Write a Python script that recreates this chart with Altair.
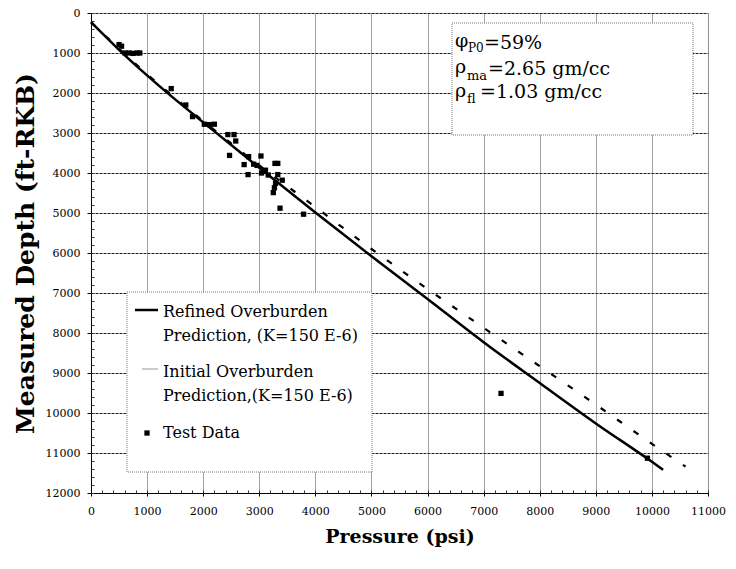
import altair as alt
import pandas as pd

# ---- data ----
refined_p = [0, 500, 1000, 1500, 2000, 2500, 3000, 4000, 5000, 6000, 7000, 8000, 9000, 10000, 10200]
refined_d = [230, 920, 1560, 2160, 2730, 3300, 3870, 4990, 6080, 7150, 8230, 9250, 10260, 11220, 11420]

initial_p = [0, 1000, 2000, 3000, 4000, 5000, 6000, 7000, 8000, 9000, 10000, 10600]
initial_d = [230, 1530, 2700, 3810, 4850, 5900, 6900, 7870, 8830, 9790, 10770, 11340]

test_p = [500, 545, 610, 680, 750, 820, 870, 1430, 1690, 1810, 2020, 2110, 2200,
          2440, 2550, 2580, 2470, 2730, 2810, 2800, 3030, 2900, 2960, 3040, 3110,
          3160, 3280, 3330, 3330, 3410, 3290, 3270, 3250, 3370, 3790, 7310, 9920]
test_d = [790, 830, 1000, 1000, 1010, 1000, 1000, 1890, 2300, 2590, 2780, 2790, 2780,
          3040, 3040, 3200, 3560, 3790, 3590, 4040, 3575, 3780, 3810, 4000, 3930,
          4050, 3760, 3760, 4040, 4180, 4260, 4370, 4490, 4880, 5030, 9510, 11130]

x_ticks = list(range(0, 11001, 1000))
y_ticks = list(range(0, 12001, 1000))
x_minor = list(range(0, 11001, 200))
y_minor = list(range(0, 12001, 200))

FONT = "DejaVu Serif"

refined = pd.DataFrame({"P": refined_p, "D": refined_d})
initial = pd.DataFrame({"P": initial_p, "D": initial_d})
test = pd.DataFrame({"P": test_p, "D": test_d})
one = pd.DataFrame({"k": [0]})

xscale = alt.Scale(domain=[0, 11000], nice=False, zero=False)
yscale = alt.Scale(domain=[0, 12000], nice=False, zero=False, reverse=True)

x_axis = alt.Axis(values=x_ticks, format="d", title="Pressure (psi)",
                  titleFont=FONT, titleFontSize=19, titleFontWeight="bold", titleColor="black",
                  titleY=49, titleBaseline="alphabetic",
                  labelFont=FONT, labelFontSize=11, labelColor="black", labelPadding=9,
                  tickSize=3, tickColor="black", domainColor="black",
                  grid=True, gridColor="#444", gridDash=[1, 1], gridWidth=1, labelFlush=False)
y_axis = alt.Axis(values=y_ticks, format="d", title="Measured Depth (ft-RKB)",
                  titleFont=FONT, titleFontSize=25, titleFontWeight="bold", titleColor="black",
                  titleX=-66, titleY=240, titleAngle=270, titleBaseline="middle", titleAlign="center",
                  labelFont=FONT, labelFontSize=11, labelColor="black", labelPadding=7,
                  tickSize=4, tickColor="black", domainColor="black",
                  grid=True, gridColor="#222", gridDash=[3, 1], gridWidth=1, labelFlush=False)

line_refined = alt.Chart(refined).mark_line(color="black", strokeWidth=2.5, interpolate="monotone").encode(
    x=alt.X("P:Q", scale=xscale, axis=x_axis),
    y=alt.Y("D:Q", scale=yscale, axis=y_axis),
)
line_initial = alt.Chart(initial).mark_line(color="black", strokeWidth=2.2, strokeDash=[6, 14],
                                            interpolate="monotone").encode(
    x=alt.X("P:Q", scale=xscale, axis=None),
    y=alt.Y("D:Q", scale=yscale, axis=None),
)
points = alt.Chart(test).mark_square(color="black", size=28, opacity=1).encode(
    x=alt.X("P:Q", scale=xscale, axis=None),
    y=alt.Y("D:Q", scale=yscale, axis=None),
)
minor = alt.Chart(test).mark_point(opacity=0).encode(
    x=alt.X("P:Q", scale=xscale, axis=alt.Axis(values=x_minor, orient="bottom", offset=-3, tickSize=3,
                                                 labels=False, domain=False, grid=False, title=None,
                                                 tickColor="#333")),
    y=alt.Y("D:Q", scale=yscale, axis=alt.Axis(values=y_minor, orient="left", offset=-3, tickSize=3,
                                                 labels=False, domain=False, grid=False, title=None,
                                                 tickColor="#333")),
)

def box(x, x2, y, y2):
    return alt.Chart(one).mark_rect(fill="white", stroke="#777", strokeWidth=1, strokeDash=[1, 1]).encode(
        x=alt.value(x), x2=alt.value(x2), y=alt.value(y), y2=alt.value(y2))

def txt(s, x, y, size, baseline="middle", **kw):
    return alt.Chart(one).mark_text(text=s, font=FONT, fontSize=size, color="black",
                                    align="left", baseline=baseline, **kw).encode(
        x=alt.value(x), y=alt.value(y))

# parameter box (top right)
param_box = box(361, 602, 10, 122)
params = [
    txt("φ", 364, 28, 19), txt("P0", 377, 35, 12), txt("=59%", 393, 30, 19),
    txt("ρ", 364, 54, 19), txt("ma", 376, 63, 13), txt("=2.65 gm/cc", 397, 56, 19),
    txt("ρ", 364, 78, 19), txt("fl", 376, 86, 13), txt("=1.03 gm/cc", 389, 79, 19),
]

# legend box (lower left)
legend_box = box(36, 281, 279, 459)
leg_refined_sym = alt.Chart(one).mark_rule(color="black", strokeWidth=2.5).encode(
    x=alt.value(44), x2=alt.value(67), y=alt.value(297))
leg_initial_sym = alt.Chart(one).mark_rule(color="#999", strokeWidth=1).encode(
    x=alt.value(51), x2=alt.value(67), y=alt.value(356))
leg_test_sym = alt.Chart(one).mark_square(color="black", size=28, opacity=1).encode(
    x=alt.value(56), y=alt.value(420))
leg_texts = [
    txt(["Refined Overburden", "Prediction, (K=150 E-6)"], 72, 291, 16, baseline="top", lineHeight=24),
    txt(["Initial Overburden", "Prediction,(K=150 E-6)"], 72, 351, 16, baseline="top", lineHeight=24),
    txt("Test Data", 72, 412, 16, baseline="top"),
]

chart = alt.layer(
    line_refined, line_initial, points, minor,
    param_box, *params,
    legend_box, leg_refined_sym, leg_initial_sym, leg_test_sym, *leg_texts,
).resolve_axis(x="independent", y="independent").properties(
    width=617, height=480,
    autosize=alt.AutoSizeParams(type="none"),
    padding={"left": 83, "top": 5, "right": 20, "bottom": 68},
).configure_view(stroke="black", strokeWidth=1).configure(background="white")

chart.save("out.html", embed_options={"renderer": "svg", "actions": False})
